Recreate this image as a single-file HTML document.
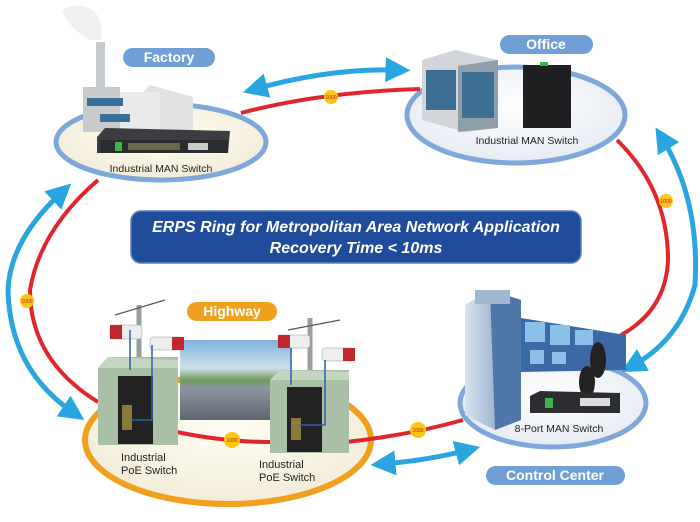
<!DOCTYPE html>
<html><head><meta charset="utf-8"><style>
html,body{margin:0;padding:0;background:#fff;}
svg{display:block;}
text{font-family:"Liberation Sans",sans-serif;}
</style></head><body>
<svg width="700" height="522" viewBox="0 0 700 522" xmlns="http://www.w3.org/2000/svg">
<defs>
<radialGradient id="eg" cx="50%" cy="40%" r="60%"><stop offset="0" stop-color="#fffdf4"/><stop offset="1" stop-color="#f2ecd8"/></radialGradient>
<radialGradient id="eg2" cx="50%" cy="40%" r="60%"><stop offset="0" stop-color="#ffffff"/><stop offset="1" stop-color="#e6ebf3"/></radialGradient>
<linearGradient id="sky" x1="0" y1="0" x2="0" y2="1"><stop offset="0" stop-color="#7fb3de"/><stop offset="0.35" stop-color="#cfe0ea"/><stop offset="0.5" stop-color="#6f9a5c"/><stop offset="0.6" stop-color="#8c96a0"/><stop offset="1" stop-color="#5f6770"/></linearGradient>
<linearGradient id="tw" x1="0" y1="0" x2="1" y2="0"><stop offset="0" stop-color="#d7e4f0"/><stop offset="1" stop-color="#6f8fb5"/></linearGradient>
<marker id="ah" viewBox="0 0 10 10" refX="5" refY="5" markerWidth="5" markerHeight="5" orient="auto-start-reverse"><path d="M0,0 L10,5 L0,10 z" fill="#29a6e0"/></marker>
</defs>

<ellipse cx="161" cy="142" rx="105" ry="38" fill="url(#eg)" stroke="#7fa7da" stroke-width="5"/>
<ellipse cx="516" cy="115" rx="109" ry="48" fill="url(#eg2)" stroke="#7fa7da" stroke-width="5"/>
<ellipse cx="228" cy="440" rx="143" ry="64" fill="url(#eg)" stroke="#f0a01e" stroke-width="6"/>
<ellipse cx="553" cy="403" rx="93" ry="44" fill="url(#eg2)" stroke="#7fa7da" stroke-width="5"/>

<g fill="none" stroke="#e0262d" stroke-width="4">
<path d="M241,113 Q320,92 420,89"/>
<path d="M617,140 Q668,190 668,260 Q666,310 621,335"/>
<path d="M98,180 Q40,230 30,290 Q30,360 98,402"/>
<path d="M177,432 Q225,442 270,442"/>
<path d="M346,442 Q410,435 463,420"/>
</g>

<g fill="none" stroke="#29a6e0" stroke-width="5" marker-start="url(#ah)" marker-end="url(#ah)">
<path d="M255,89 Q330,68 398,70"/>
<path d="M62,192 Q10,240 8,290 Q10,370 74,413"/>
<path d="M662,138 Q700,200 695,285 Q680,340 632,366"/>
<path d="M383,464 Q430,460 468,450"/>
</g>

<g font-size="5" fill="#b3261e" text-anchor="middle">
<circle cx="331" cy="97" r="7" fill="#fcc512"/><text x="331" y="99">1000</text>
<circle cx="666" cy="201" r="7" fill="#fcc512"/><text x="666" y="203">1000</text>
<circle cx="27" cy="301" r="7" fill="#fcc512"/><text x="27" y="303">1000</text>
<circle cx="232" cy="440" r="8" fill="#fcc512"/><text x="232" y="442">1000</text>
<circle cx="418" cy="430" r="8" fill="#fcc512"/><text x="418" y="432">1000</text>
</g>

<rect x="131" y="211" width="450" height="52" rx="10" fill="#1e4c9a" stroke="#5b7fc0" stroke-width="1.5"/>
<text x="356" y="232" font-size="16" font-style="italic" font-weight="bold" fill="#fff" text-anchor="middle">ERPS Ring for Metropolitan Area Network Application</text>
<text x="356" y="253" font-size="16" font-style="italic" font-weight="bold" fill="#fff" text-anchor="middle">Recovery Time &lt; 10ms</text>

<path d="M62,10 Q80,0 95,12 Q105,25 100,40 L90,40 Q70,30 62,10z" fill="#eef0f2"/>
<rect x="96" y="42" width="9" height="45" fill="#c9cccf"/>
<path d="M140,95 L150,85 L193,97 L193,133 L140,133z" fill="#dfe1e3"/>
<polygon points="83,87 120,87 120,132 83,132" fill="#c8cbce"/>
<rect x="120" y="92" width="40" height="40" fill="#e9eaec"/>
<g fill="#3a6f98"><rect x="87" y="98" width="36" height="8"/><rect x="100" y="114" width="30" height="8"/></g>
<polygon points="97,137 105,128 230,131 228,153 97,153" fill="#3b3d40"/>
<rect x="100" y="140" width="128" height="13" fill="#2a2c2e"/>
<rect x="115" y="142" width="7" height="9" fill="#3fb44a"/>
<rect x="128" y="143" width="52" height="7" fill="#6b6a4a"/>
<rect x="188" y="143" width="20" height="7" fill="#ccc"/>
<text x="161" y="172" font-size="10.5" fill="#222" text-anchor="middle">Industrial MAN Switch</text>
<rect x="123" y="48" width="92" height="19" rx="9.5" fill="#6f9fd5"/>
<text x="169" y="62" font-size="14" font-weight="bold" fill="#fff" text-anchor="middle">Factory</text>

<polygon points="422,60 455,50 498,60 498,128 465,132 422,120" fill="#d2d6da"/>
<polygon points="458,66 498,60 498,128 458,132" fill="#8f9ea8"/>
<g fill="#3c6f93"><rect x="426" y="70" width="30" height="40"/><rect x="462" y="72" width="32" height="46"/></g>
<rect x="523" y="65" width="48" height="63" fill="#1d1f21"/>
<rect x="540" y="62" width="8" height="4" fill="#3fb44a"/>
<text x="527" y="144" font-size="10.5" fill="#222" text-anchor="middle">Industrial MAN Switch</text>
<rect x="500" y="35" width="93" height="19" rx="9.5" fill="#6f9fd5"/>
<text x="546" y="49" font-size="14" font-weight="bold" fill="#fff" text-anchor="middle">Office</text>

<rect x="180" y="340" width="111" height="80" fill="url(#sky)"/>
<g stroke="#9a9da0" stroke-width="5"><line x1="139" y1="305" x2="139" y2="370"/><line x1="310" y1="318" x2="310" y2="380"/></g>
<g stroke="#555" stroke-width="1.2"><line x1="115" y1="315" x2="165" y2="300"/><line x1="288" y1="330" x2="340" y2="320"/></g>
<g>
<rect x="110" y="325" width="32" height="14" rx="3" fill="#eee" stroke="#999" stroke-width="0.5"/><rect x="110" y="325" width="12" height="14" fill="#c2272d"/>
<rect x="150" y="337" width="32" height="13" rx="3" fill="#eee" stroke="#999" stroke-width="0.5"/><rect x="172" y="337" width="12" height="13" fill="#c2272d"/>
<rect x="278" y="335" width="32" height="13" rx="3" fill="#eee" stroke="#999" stroke-width="0.5"/><rect x="278" y="335" width="12" height="13" fill="#c2272d"/>
<rect x="322" y="348" width="32" height="13" rx="3" fill="#eee" stroke="#999" stroke-width="0.5"/><rect x="343" y="348" width="12" height="13" fill="#c2272d"/>
</g>
<polygon points="98,368 108,357 178,357 178,445 98,445" fill="#a9c0a6"/>
<polygon points="98,368 178,368 178,360 108,357" fill="#c3d6c0"/>
<rect x="118" y="376" width="35" height="68" fill="#222"/>
<rect x="122" y="405" width="10" height="25" fill="#8a7a3a"/>
<polygon points="270,380 280,370 349,370 349,453 270,453" fill="#a9c0a6"/>
<polygon points="270,380 349,380 349,372 280,370" fill="#c3d6c0"/>
<rect x="287" y="387" width="35" height="65" fill="#222"/>
<rect x="291" y="418" width="10" height="22" fill="#8a7a3a"/>
<g stroke="#2860b0" stroke-width="1.5" fill="none"><path d="M130,330 V370"/><path d="M152,345 V420 H132"/><path d="M291,348 V385"/><path d="M325,360 V425 H300"/></g>
<text x="121" y="461" font-size="11" fill="#222">Industrial</text>
<text x="121" y="474" font-size="11" fill="#222">PoE Switch</text>
<text x="259" y="468" font-size="11" fill="#222">Industrial</text>
<text x="259" y="481" font-size="11" fill="#222">PoE Switch</text>
<rect x="187" y="302" width="90" height="19" rx="9.5" fill="#f0a01e"/>
<text x="232" y="316" font-size="14" font-weight="bold" fill="#fff" text-anchor="middle">Highway</text>

<polygon points="521,318 626,335 626,370 521,372" fill="#3b6aa4"/>
<g fill="#8cc0e8"><rect x="525" y="322" width="20" height="20"/><rect x="550" y="325" width="20" height="20"/><rect x="575" y="330" width="18" height="15"/><rect x="530" y="350" width="14" height="14"/><rect x="552" y="352" width="14" height="12"/></g>
<polygon points="465,305 490,290 521,300 521,420 495,430 465,415" fill="url(#tw)"/>
<polygon points="490,290 521,300 521,420 495,430" fill="#4f77a8"/>
<rect x="475" y="290" width="35" height="14" fill="#9fb8d0"/>
<ellipse cx="598" cy="360" rx="8" ry="18" fill="#222"/>
<ellipse cx="587" cy="382" rx="8" ry="16" fill="#222"/>
<polygon points="530,396 540,391 620,393 620,413 530,413" fill="#2b2d30"/>
<rect x="545" y="398" width="8" height="10" fill="#3fb44a"/>
<rect x="580" y="398" width="30" height="8" fill="#ddd"/>
<text x="559" y="432" font-size="10.5" fill="#222" text-anchor="middle">8-Port MAN Switch</text>
<rect x="486" y="466" width="139" height="19" rx="9.5" fill="#6f9fd5"/>
<text x="555" y="480" font-size="14" font-weight="bold" fill="#fff" text-anchor="middle">Control Center</text>
</svg>
</body></html>
